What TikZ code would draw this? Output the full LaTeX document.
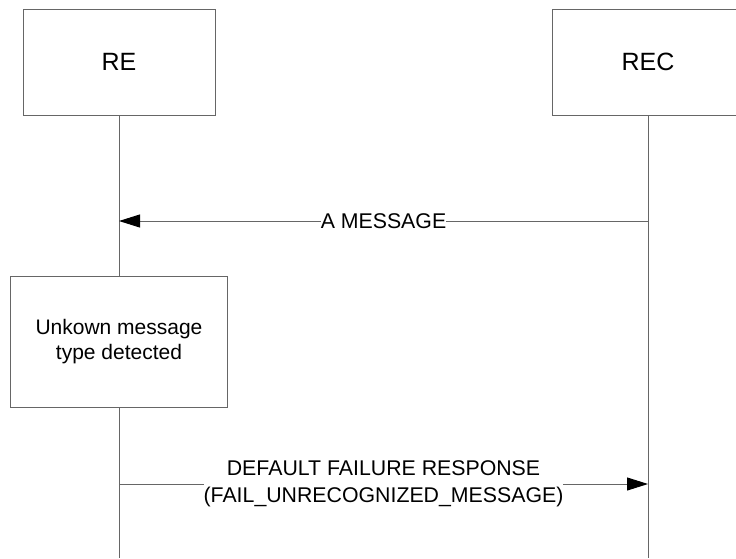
\documentclass[tikz,border=0pt]{standalone}
\usepackage{fontspec}
\setmainfont{Liberation Sans}
\usetikzlibrary{arrows.meta}
\begin{document}
\begin{tikzpicture}[x=1pt,y=-1pt,
  box/.style={draw=black!60, line width=1pt, fill=white, inner sep=0pt, align=center},
  life/.style={draw=black!60, line width=1pt},
  msg/.style={draw=black!60, line width=1pt, -{Triangle[length=21pt,width=13pt,black]}},
  lbl/.style={fill=white, inner sep=0pt, align=center, font=\fontsize{21.3}{27}\selectfont}]
\useasboundingbox (0,0) rectangle (736,558);
\node[box, minimum width=192pt, minimum height=106pt, font=\fontsize{25}{30}\selectfont] (re) at (119,62) {RE};
\node[box, minimum width=192pt, minimum height=106pt, font=\fontsize{25}{30}\selectfont] (rec) at (648,62) {REC};
\node[box, minimum width=217pt, minimum height=131pt, font=\fontsize{21}{25}\selectfont] (unk) at (119,341.5) {Unkown message\\type detected};
\coordinate (reA) at (119,221);
\coordinate (recA) at (648,221);
\coordinate (reB) at (119,484);
\coordinate (recB) at (648,484);
\coordinate (reEnd) at (119,558);
\coordinate (recEnd) at (648,558);
\draw[life] (re.south) -- (unk.north);
\draw[life] (unk.south) -- (reEnd);
\draw[life] (rec.south) -- (recEnd);
\draw[msg] (recA) -- node[lbl] (m1) {A MESSAGE} (reA);
\draw[msg] (reB) -- node[lbl] (m2) {DEFAULT FAILURE RESPONSE\\(FAIL\_UNRECOGNIZED\_MESSAGE)} (recB);
\end{tikzpicture}
\end{document}
